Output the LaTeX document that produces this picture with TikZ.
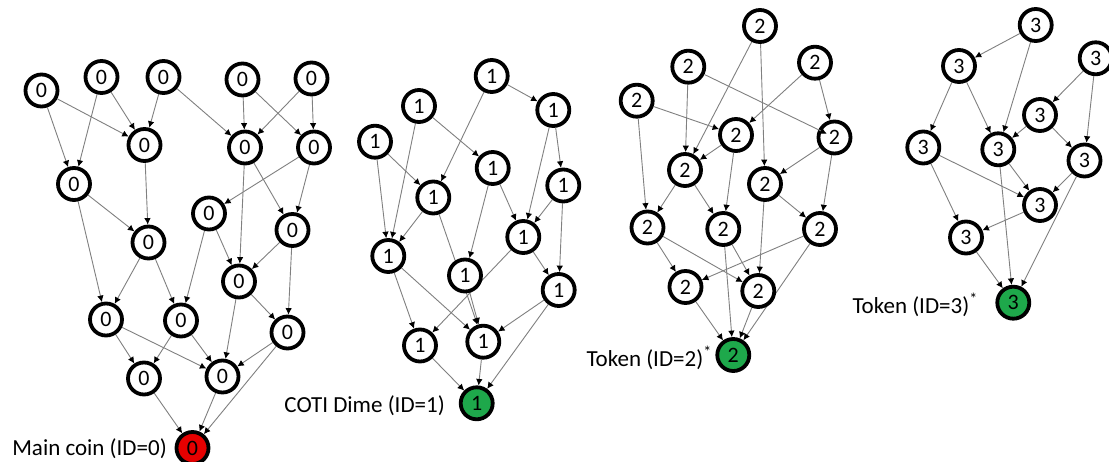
\documentclass[tikz,border=0pt]{standalone}
\usepackage{fontspec}
\setmainfont{Carlito}
\usetikzlibrary{arrows.meta,calc}
\pgfdeclarelayer{paper}
\pgfdeclarelayer{edges}
\pgfsetlayers{paper,edges,main}
\definecolor{coinred}{RGB}{230,0,0}
\definecolor{coingreen}{RGB}{30,168,75}
\definecolor{linkgray}{RGB}{128,128,128}
\tikzset{
  coin/.style={circle, draw=black, line width=3.8pt, fill=white, minimum size=32pt,
    inner sep=0pt, font=\fontsize{22}{22}\selectfont},
  redcoin/.style={coin, fill=coinred},
  greencoin/.style={coin, fill=coingreen},
  link/.style={draw=linkgray, line width=0.9pt, -{Latex[length=6.5pt,width=6.5pt,black]}},
  lbl/.style={anchor=base east, inner sep=0pt, font=\fontsize{23}{23}\selectfont}
}
\begin{document}
\begin{tikzpicture}[x=1pt,y=-1pt]
\useasboundingbox (0,0) rectangle (1109,462);
\clip (0,0) rectangle (1109,462);
\begin{pgfonlayer}{paper}
\fill[white] (0,0) rectangle (1109,462);
\end{pgfonlayer}

% ---- ID = 0 ----
\node[coin] (a1) at (41.5,90.5) {0};
\node[coin] (a2) at (101.5,77) {0};
\node[coin] (a3) at (163.5,77) {0};
\node[coin] (a4) at (242.5,79.5) {0};
\node[coin] (a5) at (311.5,78.5) {0};
\node[coin] (b1) at (144.5,145) {0};
\node[coin] (b2) at (245,147.5) {0};
\node[coin] (b3) at (314,147.5) {0};
\node[coin] (c1) at (74,184) {0};
\node[coin] (c2) at (209,213.5) {0};
\node[coin] (c3) at (292.5,230) {0};
\node[coin] (d1) at (148.5,242.5) {0};
\node[coin] (e1) at (239,281.5) {0};
\node[coin] (f1) at (106,319.5) {0};
\node[coin] (f2) at (181,320.5) {0};
\node[coin] (f3) at (287.5,332.5) {0};
\node[coin] (g1) at (144,378.5) {0};
\node[coin] (g2) at (222.5,376.5) {0};
\node[redcoin] (r0) at (192.5,448) {0};
\node[lbl] (l0) at (167,455) {Main coin (ID=0)};

% ---- ID = 1 ----
\node[coin] (h1) at (491.7,76) {1};
\node[coin] (h2) at (419,106) {1};
\node[coin] (h3) at (553.3,110) {1};
\node[coin] (h4) at (375,141.7) {1};
\node[coin] (i1) at (492.7,168) {1};
\node[coin] (i2) at (563.3,185.5) {1};
\node[coin] (j1) at (433.3,197.5) {1};
\node[coin] (k1) at (523.3,237) {1};
\node[coin] (m1) at (388.3,256) {1};
\node[coin] (n1) at (465,275.5) {1};
\node[coin] (p1) at (558.7,290) {1};
\node[coin] (q1) at (420,345.5) {1};
\node[coin] (q2) at (483.3,341.7) {1};
\node[greencoin] (r1) at (476.7,403.3) {1};
\node[lbl] (l1) at (445,412.7) {COTI Dime (ID=1)};

% ---- ID = 2 ----
\node[coin] (s1) at (760,26) {2};
\node[coin] (s2) at (688.3,66.7) {2};
\node[coin] (s3) at (815,62.7) {2};
\node[coin] (s4) at (636.7,100.7) {2};
\node[coin] (t1) at (736,135) {2};
\node[coin] (t2) at (834.5,137.5) {2};
\node[coin] (u1) at (685,170) {2};
\node[coin] (u2) at (765,184) {2};
\node[coin] (v1) at (647.5,227.5) {2};
\node[coin] (v2) at (723.3,229) {2};
\node[coin] (v3) at (820,229) {2};
\node[coin] (w1) at (685.5,287) {2};
\node[coin] (w2) at (758.3,291) {2};
\node[greencoin] (r2) at (733.3,355) {2};
\node[lbl] (l2) at (712,366.7) {Token (ID=2)\textsuperscript{*}};

% ---- ID = 3 ----
\node[coin] (x1) at (1035.7,25) {3};
\node[coin] (x2) at (959,66) {3};
\node[coin] (x3) at (1095.7,58.3) {3};
\node[coin] (y1) at (1040,115) {3};
\node[coin] (z1) at (923.3,147.5) {3};
\node[coin] (z2) at (998.3,149.3) {3};
\node[coin] (z3) at (1084.5,160.5) {3};
\node[coin] (z4) at (1040,205) {3};
\node[coin] (z5) at (966,237.5) {3};
\node[greencoin] (r3) at (1013.3,302.7) {3};
\node[lbl] (l3) at (978,313.3) {Token (ID=3)\textsuperscript{*}};

% this one link runs into the coin it points at, so it is drawn on top
\coordinate (t2in) at ($(t2.center)!8.5pt!(s2)$);
\draw[link] (s2) -- (t2in);

\begin{pgfonlayer}{edges}
% ID = 0
\draw[link] (a1) -- (b1);
\draw[link] (a1) -- (c1);
\draw[link] (a2) -- (c1);
\draw[link] (a2) -- (b1);
\draw[link] (a3) -- (b1);
\draw[link] (a3) -- (b2);
\draw[link] (a4) -- (b2);
\draw[link] (a4) -- (b3);
\draw[link] (a5) -- (b2);
\draw[link] (a5) -- (b3);
\draw[link] (b1) -- (d1);
\draw[link] (c1) -- (d1);
\draw[link] (c1) -- (f1);
\draw[link] (b3) -- (c2);
\draw[link] (b3) -- (c3);
\draw[link] (b2) -- (c3);
\draw[link] (b2) -- (e1);
\draw[link] (c2) -- (f2);
\draw[link] (c2) -- (e1);
\draw[link] (c3) -- (e1);
\draw[link] (c3) -- (f3);
\draw[link] (d1) -- (f1);
\draw[link] (d1) -- (f2);
\draw[link] (e1) -- (g2);
\draw[link] (e1) -- (f3);
\draw[link] (f1) -- (g1);
\draw[link] (f1) -- (g2);
\draw[link] (f2) -- (g1);
\draw[link] (f2) -- (g2);
\draw[link] (f3) -- (g2);
\draw[link] (f3) -- (r0);
\draw[link] (g1) -- (r0);
\draw[link] (g2) -- (r0);
% ID = 1
\draw[link] (h1) -- (h3);
\draw[link] (h1) -- (j1);
\draw[link] (h2) -- (i1);
\draw[link] (h2) -- (m1);
\draw[link] (h4) -- (j1);
\draw[link] (h4) -- (m1);
\draw[link] (h3) -- (k1);
\draw[link] (h3) -- (i2);
\draw[link] (i1) -- (k1);
\draw[link] (i1) -- (n1);
\draw[link] (i2) -- (k1);
\draw[link] (i2) -- (p1);
\draw[link] (j1) -- (m1);
\draw[link] (j1) -- (q2);
\draw[link] (k1) -- (p1);
\draw[link] (k1) -- (q1);
\draw[link] (m1) -- (q1);
\draw[link] (m1) -- (q2);
\draw[link] (n1) -- (q2);
\draw[link] (p1) -- (q2);
\draw[link] (p1) -- (r1);
\draw[link] (q1) -- (r1);
\draw[link] (q2) -- (r1);
% ID = 2
\draw[link] (s1) -- (u1);
\draw[link] (s1) -- (u2);
\draw[link] (s2) -- (u1);
\draw[link] (s3) -- (t1);
\draw[link] (s3) -- (t2);
\draw[link] (s4) -- (t1);
\draw[link] (s4) -- (v1);
\draw[link] (t1) -- (u1);
\draw[link] (t1) -- (v2);
\draw[link] (t2) -- (u2);
\draw[link] (t2) -- (v3);
\draw[link] (u1) -- (v1);
\draw[link] (u1) -- (v2);
\draw[link] (u2) -- (v3);
\draw[link] (u2) -- (w2);
\draw[link] (v1) -- (w1);
\draw[link] (v1) -- (w2);
\draw[link] (v2) -- (r2);
\draw[link] (v2) -- (w2);
\draw[link] (v3) -- (w1);
\draw[link] (v3) -- (r2);
\draw[link] (w1) -- (r2);
\draw[link] (w2) -- (r2);
% ID = 3
\draw[link] (x1) -- (x2);
\draw[link] (x1) -- (z2);
\draw[link] (x2) -- (z1);
\draw[link] (x2) -- (z2);
\draw[link] (x3) -- (y1);
\draw[link] (x3) -- (z3);
\draw[link] (y1) -- (z2);
\draw[link] (y1) -- (z3);
\draw[link] (z1) -- (z4);
\draw[link] (z1) -- (z5);
\draw[link] (z2) -- (z4);
\draw[link] (z2) -- (r3);
\draw[link] (z3) -- (z4);
\draw[link] (z3) -- (r3);
\draw[link] (z4) -- (z5);
\draw[link] (z5) -- (r3);
\end{pgfonlayer}
\end{tikzpicture}
\end{document}
